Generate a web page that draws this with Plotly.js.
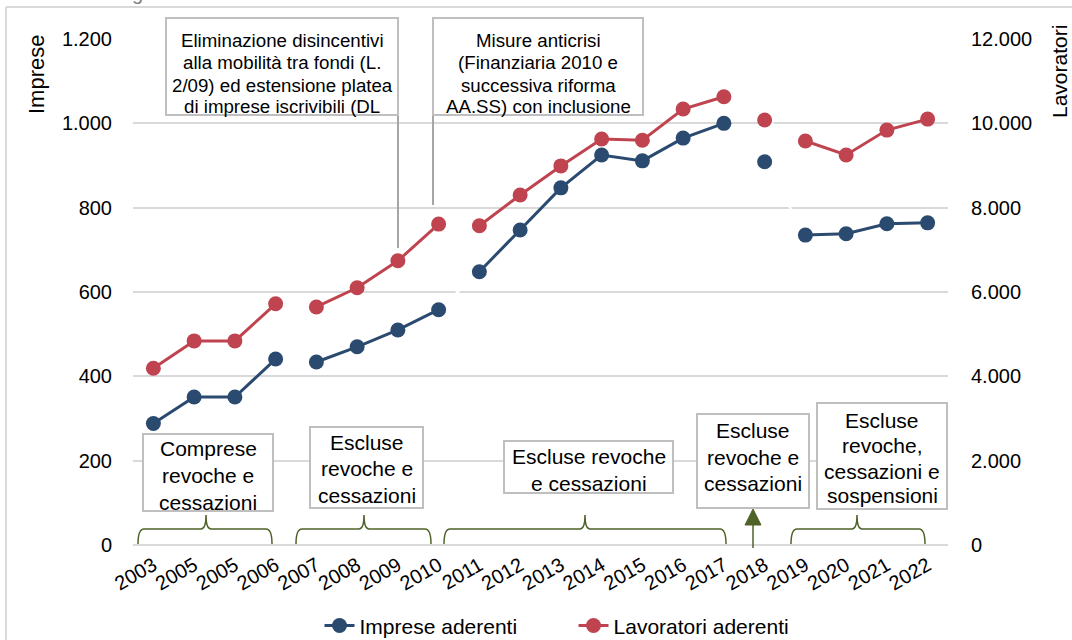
<!DOCTYPE html>
<html>
<head>
<meta charset="utf-8">
<script src="https://cdn.plot.ly/plotly-3.0.1.min.js"></script>
<style>
  html, body { margin: 0; padding: 0; background: #ffffff; }
  #chart { width: 1072px; height: 640px; }
</style>
</head>
<body>
<div id="chart"></div>
<script>
// Years shown on the category axis (the label "2005" appears twice in the series)
const years = ["2003", "2005", "2005", "2006", "2007", "2008", "2009", "2010", "2011", "2012",
               "2013", "2014", "2015", "2016", "2017", "2018", "2019", "2020", "2021", "2022"];

// Firms joining (left axis)
const impreseAderenti = [288, 351, 351, 441, 434, 470, 510, 558, 648, 747,
                         847, 925, 911, 965, 1000, 909, 735, 738, 762, 764];

// Workers joining (right axis)
const lavoratoriAderenti = [4190, 4840, 4840, 5720, 5645, 6100, 6740, 7610, 7570, 8300,
                            8990, 9630, 9600, 10340, 10630, 10080, 9580, 9250, 9840, 10100];

// Counting-method period each year belongs to: the line is broken between periods
const periodo = [0, 0, 0, 0, 1, 1, 1, 1, 2, 2, 2, 2, 2, 2, 2, 3, 4, 4, 4, 4];

const BLUE = "#2B4A70";
const RED = "#BF4450";
const GREEN = "#4F6228";
const BOXLINE = "#BFBFBF";
const FONT = "Liberation Sans, Arial, Helvetica, sans-serif";

// plot area in pixels, used to place the decorations in paper units
const PL = 133, PR = 948, PT = 39, PB = 545;
const fx = p => (p - PL) / (PR - PL);
const fy = p => (PB - p) / (PB - PT);

const idx = years.map((_, i) => i);

// series split into periods with a null between them
function segmented(values) {
  const xs = [], ys = [];
  values.forEach((v, i) => {
    xs.push(i); ys.push(v);
    if (i < values.length - 1 && periodo[i + 1] !== periodo[i]) {
      xs.push(i + 0.5); ys.push(null);
    }
  });
  return { xs, ys };
}

const imp = segmented(impreseAderenti);
const lav = segmented(lavoratoriAderenti);

const traces = [
  // thin white connectors behind the series (they cut the gridlines between periods)
  { x: idx, y: impreseAderenti, type: "scatter", mode: "lines", yaxis: "y",
    line: { color: "#ffffff", width: 2.5 }, showlegend: false, hoverinfo: "skip" },
  { x: idx, y: lavoratoriAderenti, type: "scatter", mode: "lines", yaxis: "y2",
    line: { color: "#ffffff", width: 2.5 }, showlegend: false, hoverinfo: "skip" },
  { x: imp.xs, y: imp.ys, type: "scatter", mode: "lines+markers", name: "Imprese aderenti",
    yaxis: "y", connectgaps: false,
    line: { color: BLUE, width: 3 }, marker: { color: BLUE, size: 15 } },
  { x: lav.xs, y: lav.ys, type: "scatter", mode: "lines+markers", name: "Lavoratori aderenti",
    yaxis: "y2", connectgaps: false,
    line: { color: RED, width: 3 }, marker: { color: RED, size: 15 } }
];

// ---- boxes with notes ----
const boxes = [
  { x0: 166, y0: 18, x1: 398, y1: 115, size: 18.7, lines: [
      ["Eliminazione disincentivi", 41], ["alla mobilità tra fondi (L.", 63],
      ["2/09) ed estensione platea", 85], ["di imprese iscrivibili (DL", 106]] },
  { x0: 433, y0: 18, x1: 643, y1: 115, size: 18.7, lines: [
      ["Misure anticrisi", 41], ["(Finanziaria 2010 e", 63],
      ["successiva riforma", 85], ["AA.SS) con inclusione", 106]] },
  { x0: 143, y0: 434, x1: 273, y1: 511, size: 21, lines: [
      ["Comprese", 448], ["revoche e", 475], ["cessazioni", 502]] },
  { x0: 310, y0: 427, x1: 423, y1: 508, size: 21, lines: [
      ["Escluse", 442], ["revoche e", 468], ["cessazioni", 495]] },
  { x0: 504, y0: 441, x1: 673, y1: 493, size: 21, lines: [
      ["Escluse revoche", 456], ["e cessazioni", 483]] },
  { x0: 697, y0: 414, x1: 809, y1: 508, size: 21, lines: [
      ["Escluse", 430], ["revoche e", 457], ["cessazioni", 483]] },
  { x0: 817, y0: 403, x1: 947, y1: 509, size: 21, lines: [
      ["Escluse", 420], ["revoche,", 445], ["cessazioni e", 471], ["sospensioni", 495]] }
];

const shapes = [];
const annotations = [];

// outer frame
shapes.push({ type: "line", xref: "paper", yref: "paper", x0: fx(6), x1: fx(1090), y0: fy(7), y1: fy(7),
              line: { color: "#D9D9D9", width: 2 }, layer: "below" });
shapes.push({ type: "line", xref: "paper", yref: "paper", x0: fx(6), x1: fx(6), y0: fy(7), y1: fy(660),
              line: { color: "#D9D9D9", width: 2 }, layer: "below" });

// connectors from the top notes to the series
shapes.push({ type: "line", xref: "paper", yref: "paper", x0: fx(398), x1: fx(398), y0: fy(115), y1: fy(248),
              line: { color: "#A6A6A6", width: 2 } });
shapes.push({ type: "line", xref: "paper", yref: "paper", x0: fx(433), x1: fx(433), y0: fy(115), y1: fy(205),
              line: { color: "#A6A6A6", width: 2 } });

boxes.forEach(b => {
  shapes.push({ type: "rect", xref: "paper", yref: "paper",
                x0: fx(b.x0), x1: fx(b.x1), y0: fy(b.y0), y1: fy(b.y1),
                line: { color: BOXLINE, width: 2 }, fillcolor: "#ffffff", layer: "above" });
  const cx = (b.x0 + b.x1) / 2;
  b.lines.forEach(([t, y]) => {
    annotations.push({ text: t, xref: "paper", yref: "paper", x: fx(cx), y: fy(y),
                       xanchor: "center", yanchor: "middle", showarrow: false,
                       font: { family: FONT, size: b.size, color: "#000000" } });
  });
});

// curly braces grouping the periods
function brace(x0, x1, xm) {
  const yb = 544, yh = 529, yt = 515;
  const P = (x, y) => fx(x).toFixed(5) + "," + fy(y).toFixed(5);
  return "M" + P(x0, yb) + " Q" + P(x0, yh) + " " + P(x0 + 6, yh) +
         " L" + P(xm - 5, yh) + " Q" + P(xm, yh) + " " + P(xm, yt) +
         " Q" + P(xm, yh) + " " + P(xm + 5, yh) +
         " L" + P(x1 - 6, yh) + " Q" + P(x1, yh) + " " + P(x1, yb);
}
[[138, 272, 206], [296, 431, 364], [444, 726, 585], [791, 925, 857]].forEach(([a, b, m]) => {
  shapes.push({ type: "path", xref: "paper", yref: "paper", path: brace(a, b, m),
                line: { color: GREEN, width: 1.5 }, layer: "above" });
});

// arrow under 2018
shapes.push({ type: "line", xref: "paper", yref: "paper", x0: fx(753), x1: fx(753), y0: fy(548), y1: fy(522),
              line: { color: GREEN, width: 1.5 }, layer: "above" });
shapes.push({ type: "path", xref: "paper", yref: "paper",
              path: "M" + fx(745) + "," + fy(525) + " L" + fx(761) + "," + fy(525) + " L" + fx(753) + "," + fy(509) + " Z",
              fillcolor: GREEN, line: { color: GREEN, width: 1 }, layer: "above" });

// axis titles
annotations.push({ text: "Imprese", xref: "paper", yref: "paper", x: fx(36), y: fy(75),
                   xanchor: "center", yanchor: "middle", textangle: -90, showarrow: false,
                   font: { family: FONT, size: 22, color: "#000000" } });
annotations.push({ text: "Lavoratori", xref: "paper", yref: "paper", x: fx(1060), y: fy(72),
                   xanchor: "center", yanchor: "middle", textangle: -90, showarrow: false,
                   font: { family: FONT, size: 21, color: "#000000" } });

// tail of the heading above the frame
annotations.push({ text: "g", xref: "paper", yref: "paper", x: fx(137), y: fy(-7),
                   xanchor: "center", yanchor: "middle", showarrow: false,
                   font: { family: FONT, size: 20, color: "#808080" } });

const layout = {
  width: 1072, height: 640, autosize: false,
  margin: { l: PL, r: 1072 - PR, t: PT, b: 640 - PB, pad: 0 },
  paper_bgcolor: "#ffffff", plot_bgcolor: "#ffffff",
  separators: ",.",
  font: { family: FONT, color: "#000000", size: 20 },
  showlegend: true,
  legend: { orientation: "h", xref: "container", yref: "container",
            x: 0.535, xanchor: "center", y: 0.022, yanchor: "middle",
            entrywidth: 209, entrywidthmode: "pixels",
            font: { family: FONT, size: 21, color: "#000000" },
            bgcolor: "rgba(0,0,0,0)", traceorder: "normal" },
  xaxis: { range: [-0.5, 19.5], tickmode: "array", tickvals: idx, ticktext: years,
           tickangle: -30, showgrid: false, zeroline: false, showline: false, ticks: "",
           ticklabelstandoff: 4, tickfont: { family: FONT, size: 20, color: "#000000" },
           fixedrange: true },
  yaxis: { range: [0, 1200], dtick: 200, tick0: 0, tickformat: ",d",
           showgrid: true, gridcolor: "#D9D9D9", gridwidth: 2,
           zeroline: true, zerolinecolor: "#D9D9D9", zerolinewidth: 2,
           showline: false, ticks: "", ticklabelstandoff: 20,
           tickfont: { family: FONT, size: 20, color: "#000000" }, fixedrange: true },
  yaxis2: { range: [0, 12000], dtick: 2000, tick0: 0, tickformat: ",d",
            overlaying: "y", side: "right", showgrid: false, zeroline: false,
            showline: false, ticks: "", ticklabelstandoff: 22,
            tickfont: { family: FONT, size: 20, color: "#000000" }, fixedrange: true },
  shapes: shapes,
  annotations: annotations
};

Plotly.newPlot("chart", traces, layout, { staticPlot: true, displayModeBar: false });
</script>
</body>
</html>
